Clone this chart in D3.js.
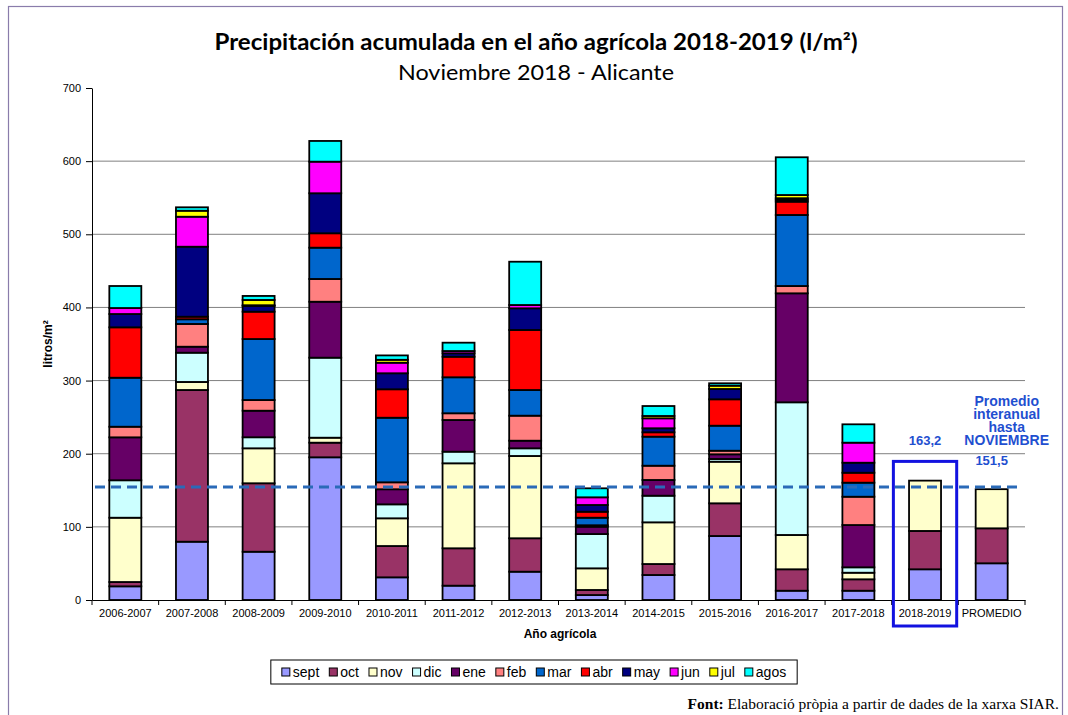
<!DOCTYPE html>
<html>
<head>
<meta charset="utf-8">
<script src="https://cdn.jsdelivr.net/npm/d3@7"></script>
<style>
  body { margin: 0; background: #fff; }
  svg text { font-family: "Liberation Sans", Arial, sans-serif; }
</style>
</head>
<body>
<div id="chart"></div>
<script>
// campañas agrícolas (eje X)
const categories = ["2006-2007", "2007-2008", "2008-2009", "2009-2010", "2010-2011", "2011-2012",
    "2012-2013", "2013-2014", "2014-2015", "2015-2016", "2016-2017", "2017-2018", "2018-2019", "PROMEDIO"];

// lluvia mensual (l/m2), una serie por mes
const sept = [18.7, 79.7, 66.0, 195.1, 31.0, 19.6, 38.7, 6.8, 34.2, 87.5, 12.7, 12.7, 42.0, 50.2];
const oct  = [5.9, 207.4, 93.6, 20.0, 42.8, 51.1, 45.7, 6.9, 15.0, 44.7, 29.3, 15.6, 52.4, 47.8];
const nov  = [87.9, 11.0, 47.8, 6.8, 37.9, 116.2, 112.5, 29.6, 57.0, 56.9, 46.9, 9.0, 68.8, 53.5];
const dic  = [51.2, 40.0, 15.1, 109.4, 19.1, 15.9, 10.5, 46.9, 36.4, 3.7, 181.4, 7.4, 0, 0];
const ene  = [58.7, 8.2, 36.3, 76.5, 20.6, 43.3, 10.4, 10.0, 21.5, 6.4, 149.0, 57.8, 0, 0];
const feb  = [14.5, 31.1, 14.6, 31.1, 9.5, 9.2, 34.2, 2.0, 19.5, 4.9, 10.0, 38.7, 0, 0];
const mar  = [67.0, 6.4, 83.4, 42.8, 88.3, 49.2, 35.1, 10.3, 39.7, 34.2, 97.1, 19.2, 0, 0];
const abr  = [68.9, 3.5, 37.4, 19.7, 38.9, 28.1, 82.1, 8.2, 6.0, 36.1, 18.2, 13.6, 0, 0];
const may  = [18.2, 95.7, 7.8, 54.7, 21.9, 4.7, 29.6, 9.2, 5.5, 14.1, 2.5, 13.7, 0, 0];
const jun  = [8.2, 41.0, 1.0, 43.2, 14.4, 3.1, 4.5, 10.5, 13.6, 0, 2.2, 27.4, 0, 0];
const jul  = [0, 8.2, 7.2, 0, 4.0, 0, 0, 0, 3.2, 4.5, 4.4, 0, 0, 0];
const agos = [30.1, 4.7, 5.5, 28.3, 6.0, 11.4, 59.2, 12.3, 13.6, 3.3, 51.6, 25.1, 0, 0];

const yTicks = [0, 100, 200, 300, 400, 500, 600, 700];
const avgLine = 154.5;         // linea discontinua
const labelActual = "163,2";
const labelAvg = "151,5";

const months = [
    { key: "sept", values: sept, color: "#9999FF" },
    { key: "oct",  values: oct,  color: "#993366" },
    { key: "nov",  values: nov,  color: "#FFFFCC" },
    { key: "dic",  values: dic,  color: "#CCFFFF" },
    { key: "ene",  values: ene,  color: "#660066" },
    { key: "feb",  values: feb,  color: "#FF8080" },
    { key: "mar",  values: mar,  color: "#0066CC" },
    { key: "abr",  values: abr,  color: "#FF0000" },
    { key: "may",  values: may,  color: "#000080" },
    { key: "jun",  values: jun,  color: "#FF00FF" },
    { key: "jul",  values: jul,  color: "#FFFF00" },
    { key: "agos", values: agos, color: "#00FFFF" }
];

const W = 1068, H = 715;
const plot = { left: 92, right: 1025, top: 88, bottom: 600 };

const svg = d3.select("#chart").append("svg")
    .attr("width", W).attr("height", H);

// marco exterior
svg.append("rect")
    .attr("x", 8.5).attr("y", 6.5)
    .attr("width", 1054).attr("height", 720)
    .attr("fill", "none").attr("stroke", "#8a7cab").attr("stroke-width", 1.2);

const table = categories.map((c, i) => {
    const row = { cat: c };
    months.forEach(m => row[m.key] = m.values[i]);
    return row;
});
const stacked = d3.stack().keys(months.map(m => m.key))(table);

const x = d3.scaleBand()
    .domain(categories)
    .range([plot.left, plot.right])
    .paddingInner(0.52)
    .paddingOuter(0.26);

const y = d3.scaleLinear()
    .domain([0, 700])
    .range([plot.bottom, plot.top]);

// gridlines
svg.append("g")
    .selectAll("line")
    .data(yTicks.filter(t => t > 0 && t < 700))
    .enter().append("line")
    .attr("x1", plot.left).attr("x2", plot.right)
    .attr("y1", d => y(d)).attr("y2", d => y(d))
    .attr("stroke", "#808080").attr("stroke-width", 1);

// barras apiladas
const colorOf = {};
months.forEach(m => colorOf[m.key] = m.color);

svg.append("g")
    .selectAll("g")
    .data(stacked)
    .enter().append("g")
    .attr("fill", d => colorOf[d.key])
    .selectAll("rect")
    .data(d => d.map((s, i) => ({ s, cat: categories[i] })).filter(p => p.s[1] - p.s[0] > 0))
    .enter().append("rect")
    .attr("x", p => x(p.cat))
    .attr("width", x.bandwidth())
    .attr("y", p => y(p.s[1]))
    .attr("height", p => y(p.s[0]) - y(p.s[1]))
    .attr("stroke", "#000").attr("stroke-width", 1.8);

// eje Y
const yAxis = svg.append("g")
    .attr("transform", `translate(${plot.left},0)`)
    .call(d3.axisLeft(y).tickValues(yTicks).tickSize(6).tickPadding(5).tickSizeOuter(0));
yAxis.selectAll("text").style("font-size", "11px").attr("fill", "#000");
yAxis.selectAll("line, path").attr("stroke", "#000");

// eje X
const xAxis = svg.append("g")
    .attr("transform", `translate(0,${plot.bottom})`)
    .call(d3.axisBottom(x).tickSize(0).tickPadding(9).tickSizeOuter(0));
xAxis.selectAll("text").style("font-size", "11px").attr("fill", "#000");
xAxis.select(".domain").attr("stroke", "#000");

// marcas entre categorias
const step = x.step();
svg.append("g")
    .selectAll("line")
    .data(d3.range(categories.length + 1))
    .enter().append("line")
    .attr("x1", i => x.range()[0] + i * step)
    .attr("x2", i => x.range()[0] + i * step)
    .attr("y1", plot.bottom).attr("y2", plot.bottom + 5)
    .attr("stroke", "#000");

// linea promedio
svg.append("line")
    .attr("x1", plot.left + 3).attr("x2", plot.right - 3)
    .attr("y1", y(avgLine)).attr("y2", y(avgLine))
    .attr("stroke", "#2a6ab8").attr("stroke-width", 3)
    .attr("stroke-dasharray", "10,6");

// recuadro campaña actual
const cx = x("2018-2019") + x.bandwidth() / 2;
svg.append("rect")
    .attr("x", cx - step * 0.475)
    .attr("y", y(189.5))
    .attr("width", step * 0.95)
    .attr("height", (plot.bottom + 26) - y(189.5))
    .attr("fill", "none").attr("stroke", "#1212e0").attr("stroke-width", 3);

// etiquetas azules
const blue = "#1f4fd0";
svg.append("text")
    .attr("x", cx).attr("y", y(212))
    .attr("text-anchor", "middle")
    .style("font-size", "13px").style("font-weight", "bold")
    .attr("fill", blue).text(labelActual);

const cp = x("PROMEDIO") + x.bandwidth() / 2;
svg.append("text")
    .attr("x", cp).attr("y", y(184))
    .attr("text-anchor", "middle")
    .style("font-size", "13px").style("font-weight", "bold")
    .attr("fill", blue).text(labelAvg);

["Promedio", "interanual", "hasta", "NOVIEMBRE"].forEach((t, i) => {
    svg.append("text")
        .attr("x", cp + 15).attr("y", 406 + i * 13)
        .attr("text-anchor", "middle")
        .style("font-size", "14px").style("font-weight", "bold")
        .attr("fill", blue).text(t);
});

// titulos
svg.append("text")
    .attr("x", 536).attr("y", 50)
    .attr("text-anchor", "middle")
    .style("font-family", "Lato, 'Open Sans', sans-serif")
    .style("font-size", "22px").style("font-weight", "bold")
    .attr("textLength", 643).attr("lengthAdjust", "spacingAndGlyphs")
    .text("Precipitación acumulada en el año agrícola 2018-2019 (l/m²)");

svg.append("text")
    .attr("x", 536).attr("y", 80)
    .attr("text-anchor", "middle")
    .style("font-family", "Lato, 'Open Sans', sans-serif")
    .style("font-size", "21px")
    .attr("textLength", 276).attr("lengthAdjust", "spacingAndGlyphs")
    .text("Noviembre 2018 - Alicante");

svg.append("text")
    .attr("transform", `translate(52,${(plot.top + plot.bottom) / 2}) rotate(-90)`)
    .attr("text-anchor", "middle")
    .style("font-size", "12px").style("font-weight", "bold")
    .text("litros/m²");

svg.append("text")
    .attr("x", 560).attr("y", 638)
    .attr("text-anchor", "middle")
    .style("font-size", "12px").style("font-weight", "bold")
    .text("Año agrícola");

// leyenda
const legend = svg.append("g");
const legBox = legend.append("rect")
    .attr("y", 660).attr("height", 24)
    .attr("fill", "#fff").attr("stroke", "#000").attr("stroke-width", 1);

let lx = 0;
const items = legend.append("g");
months.forEach(m => {
    const g = items.append("g").attr("transform", `translate(${lx},0)`);
    g.append("rect")
        .attr("x", 0).attr("y", 668)
        .attr("width", 8).attr("height", 8)
        .attr("fill", m.color).attr("stroke", "#000").attr("stroke-width", 1);
    const t = g.append("text")
        .attr("x", 11).attr("y", 677)
        .style("font-size", "14px")
        .text(m.key);
    lx += 11 + t.node().getComputedTextLength() + 10;
});
const legW = lx - 10;
const legX0 = 534 - legW / 2;
items.attr("transform", `translate(${legX0},0)`);
legBox.attr("x", legX0 - 11).attr("width", legW + 22);

// fuente
const src = svg.append("text")
    .attr("x", 1059).attr("y", 709)
    .attr("text-anchor", "end")
    .style("font-family", "'Liberation Serif', 'Times New Roman', serif")
    .style("font-size", "15.5px");
src.append("tspan").style("font-weight", "bold").text("Font:");
src.append("tspan").text(" Elaboració pròpia a partir de dades de la xarxa SIAR.");
</script>
</body>
</html>
